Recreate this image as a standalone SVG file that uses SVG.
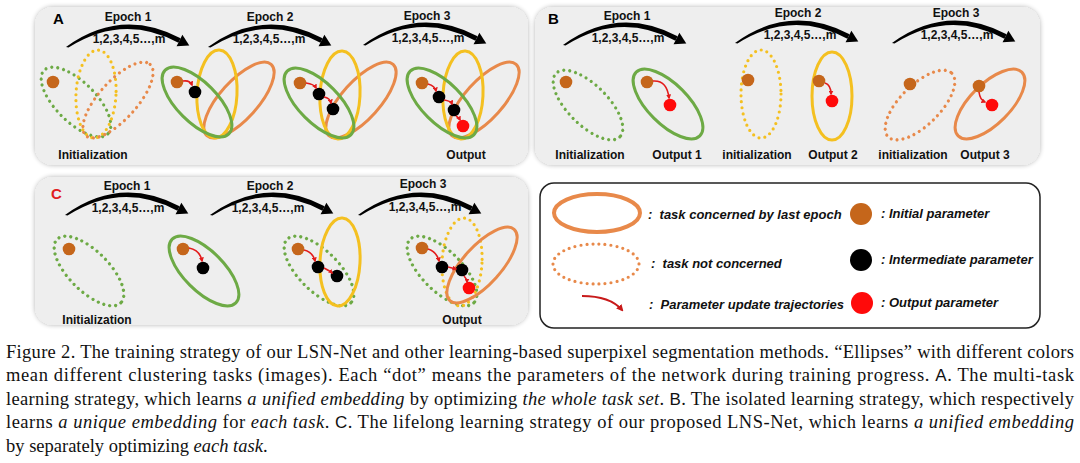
<svg xmlns="http://www.w3.org/2000/svg" width="1080" height="463" viewBox="0 0 1080 463">
<defs>
<filter id="sh" x="-5%" y="-5%" width="110%" height="110%">
<feGaussianBlur in="SourceAlpha" stdDeviation="2.5"/>
<feComponentTransfer><feFuncA type="linear" slope="0.3"/></feComponentTransfer>
<feMerge><feMergeNode/><feMergeNode in="SourceGraphic"/></feMerge>
</filter>
<marker id="ra" viewBox="0 0 10 10" refX="7" refY="5" markerWidth="5" markerHeight="5" markerUnits="userSpaceOnUse" orient="auto">
<path d="M0,0 L10,5 L0,10 Z" fill="#E31B1B"/>
</marker>
<marker id="rl" viewBox="0 0 10 10" refX="7" refY="5" markerWidth="7" markerHeight="7" markerUnits="userSpaceOnUse" orient="auto">
<path d="M0,0 L10,5 L0,10 Z" fill="#C81A1A"/>
</marker>
<g id="arc">
<path d="M0,0 Q55,-40 114.6,-8.7 L112.4,-4.3 Q57,-34 2.5,0.5 Z" fill="#000"/>
<path d="M116.4,-12.3 L123.3,-1.6 L110.6,-0.7 Z" fill="#000"/>
</g>
</defs>
<style>
.pn{fill:#eeeeee;filter:url(#sh)}
.g{stroke:#6DAA45}.y{stroke:#F4C020}.o{stroke:#E8894A}
.s{fill:none;stroke-width:3}
.d{fill:none;stroke-width:3.2;stroke-dasharray:0 6;stroke-linecap:round}
.bd{fill:#C5661B}.kd{fill:#000}.rd{fill:#FF0A0A}
.tr{fill:none;stroke:#E31B1B;stroke-width:1.6;marker-end:url(#ra)}
.ep{font-family:"Liberation Sans",Arial,sans-serif;font-weight:bold;font-size:12px;text-anchor:middle;fill:#111}
.pl{font-family:"Liberation Sans",Arial,sans-serif;font-weight:bold;font-size:15px}
.lg{font-family:"Liberation Sans",Arial,sans-serif;font-weight:bold;font-style:italic;font-size:13px;fill:#111}
.cap{font-family:"Liberation Serif","Times New Roman",serif;font-size:18.5px;fill:#111}
.it{font-style:italic}
.sf{font-family:"Liberation Sans",Arial,sans-serif;font-size:17px}
</style>

<rect class="pn" x="35" y="7" width="493" height="158" rx="18"/>
<rect class="pn" x="535" y="7" width="505" height="158" rx="18"/>
<rect class="pn" x="35" y="177" width="493" height="148" rx="18"/>

<g id="panelA">
<text class="pl" x="53" y="24">A</text>
<use href="#arc" transform="translate(66 47)"/>
<use href="#arc" transform="translate(208 47)"/>
<use href="#arc" transform="translate(363 45)"/>
<text class="ep" x="128" y="21">Epoch 1</text>
<text class="ep" x="129" y="43">1,2,3,4,5…,m</text>
<text class="ep" x="270" y="21">Epoch 2</text>
<text class="ep" x="269" y="43">1,2,3,4,5…,m</text>
<text class="ep" x="427" y="20">Epoch 3</text>
<text class="ep" x="428" y="42">1,2,3,4,5…,m</text>
</g>

<g id="A1">
<ellipse class="d g" rx="45" ry="20" transform="translate(76 102) rotate(45)"/>
<ellipse class="d y" rx="20" ry="44" transform="translate(96 94) rotate(3)"/>
<ellipse class="d o" rx="48" ry="19" transform="translate(118 100) rotate(-48)"/>
<circle class="bd" cx="53" cy="82" r="6.3"/>
<text class="ep" x="93" y="159">Initialization</text>
</g>
<g id="A2">
<ellipse class="s o" rx="48" ry="19" transform="translate(239 100) rotate(-48)"/>
<ellipse class="s y" rx="20" ry="44" transform="translate(217 94) rotate(3)"/>
<ellipse class="s g" rx="45" ry="20" transform="translate(197 102) rotate(45)"/>
<circle class="bd" cx="177" cy="82" r="6.3"/>
<circle class="kd" cx="195" cy="92" r="6.3"/>
</g>
<g id="A3">
<ellipse class="s o" rx="48" ry="19" transform="translate(361 100) rotate(-48)"/>
<ellipse class="s y" rx="20" ry="44" transform="translate(340 95) rotate(3)"/>
<ellipse class="s g" rx="45" ry="20" transform="translate(319 103) rotate(45)"/>
<circle class="bd" cx="300" cy="83" r="6.3"/>
<circle class="kd" cx="319" cy="94" r="6.3"/>
<circle class="kd" cx="333" cy="109" r="6.3"/>
</g>
<g id="A4">
<ellipse class="s o" rx="48" ry="19" transform="translate(484 100) rotate(-48)"/>
<ellipse class="s y" rx="20" ry="44" transform="translate(463 95) rotate(3)"/>
<ellipse class="s g" rx="45" ry="20" transform="translate(442 103) rotate(45)"/>
<circle class="bd" cx="422" cy="83" r="6.3"/>
<circle class="kd" cx="439" cy="97" r="6.3"/>
<circle class="kd" cx="454" cy="110" r="6.3"/>
<circle class="rd" cx="463" cy="126" r="6.3"/>
<text class="ep" x="466" y="159">Output</text>
</g>

<g id="panelB">
<text class="pl" x="548" y="24">B</text>
<use href="#arc" transform="translate(563 45)"/>
<use href="#arc" transform="translate(735 43)"/>
<use href="#arc" transform="translate(892 43)"/>
<text class="ep" x="627" y="20">Epoch 1</text>
<text class="ep" x="628" y="42">1,2,3,4,5…,m</text>
<text class="ep" x="798" y="17">Epoch 2</text>
<text class="ep" x="800" y="39">1,2,3,4,5…,m</text>
<text class="ep" x="956" y="17">Epoch 3</text>
<text class="ep" x="957" y="39">1,2,3,4,5…,m</text>
</g>
<g id="B1">
<ellipse class="d g" rx="45" ry="20" transform="translate(588 105) rotate(45)"/>
<circle class="bd" cx="566" cy="82" r="6.3"/>
<text class="ep" x="590" y="159">Initialization</text>
</g>
<g id="B2">
<ellipse class="s g" rx="45" ry="20" transform="translate(668 104) rotate(45)"/>
<circle class="bd" cx="647" cy="82" r="6.3"/>
<circle class="rd" cx="670" cy="105" r="6.3"/>
<text class="ep" x="677" y="159">Output 1</text>
</g>
<g id="B3">
<ellipse class="d y" rx="20" ry="44" transform="translate(761 94)"/>
<circle class="bd" cx="748" cy="80" r="6.3"/>
<text class="ep" x="757" y="159">initialization</text>
</g>
<g id="B4">
<ellipse class="s y" rx="20" ry="44" transform="translate(832 96)"/>
<circle class="bd" cx="819" cy="81" r="6.3"/>
<circle class="rd" cx="832" cy="101" r="6.3"/>
<text class="ep" x="833" y="159">Output 2</text>
</g>
<g id="B5">
<ellipse class="d o" rx="45" ry="20" transform="translate(920 105) rotate(-45)"/>
<circle class="bd" cx="910" cy="84" r="6.3"/>
<text class="ep" x="913" y="159">initialization</text>
</g>
<g id="B6">
<ellipse class="s o" rx="45" ry="20" transform="translate(990 104) rotate(-45)"/>
<circle class="bd" cx="979" cy="86" r="6.3"/>
<circle class="rd" cx="992" cy="105" r="6.3"/>
<text class="ep" x="985" y="159">Output 3</text>
</g>

<g id="panelC">
<text class="pl" x="51" y="199" fill="#E02020">C</text>
<use href="#arc" transform="translate(65 215)"/>
<use href="#arc" transform="translate(210 215)"/>
<use href="#arc" transform="translate(358 215)"/>
<text class="ep" x="127" y="190">Epoch 1</text>
<text class="ep" x="128" y="212">1,2,3,4,5…,m</text>
<text class="ep" x="270" y="190">Epoch 2</text>
<text class="ep" x="268" y="212">1,2,3,4,5…,m</text>
<text class="ep" x="423" y="188">Epoch 3</text>
<text class="ep" x="425" y="211">1,2,3,4,5…,m</text>
</g>
<g id="C1">
<ellipse class="d g" rx="45" ry="20" transform="translate(89 271) rotate(45)"/>
<circle class="bd" cx="69" cy="249" r="6.3"/>
<text class="ep" x="97" y="324">Initialization</text>
</g>
<g id="C2">
<ellipse class="s g" rx="45" ry="20" transform="translate(204 271) rotate(45)"/>
<circle class="bd" cx="183" cy="249" r="6.3"/>
<circle class="kd" cx="203" cy="268" r="6.3"/>
</g>
<g id="C3">
<ellipse class="d g" rx="45" ry="20" transform="translate(319 271) rotate(45)"/>
<ellipse class="s y" rx="20" ry="44" transform="translate(340 262) rotate(3)"/>
<circle class="bd" cx="298" cy="249" r="6.3"/>
<circle class="kd" cx="318" cy="267" r="6.3"/>
<circle class="kd" cx="337" cy="276" r="6.3"/>
</g>
<g id="C4">
<ellipse class="d g" rx="45" ry="20" transform="translate(442 271) rotate(45)"/>
<ellipse class="d y" rx="20" ry="44" transform="translate(462 262) rotate(3)"/>
<ellipse class="s o" rx="48" ry="19" transform="translate(482 265) rotate(-48)"/>
<circle class="bd" cx="422" cy="248" r="6.3"/>
<circle class="kd" cx="442" cy="267" r="6.3"/>
<circle class="kd" cx="462" cy="270" r="6.3"/>
<circle class="rd" cx="469" cy="288" r="6.3"/>
<text class="ep" x="462" y="324">Output</text>
</g>

<g id="connectors">
<path class="tr" d="M183,81 Q190,80 192,85"/>
<path class="tr" d="M306,83 Q314,84 316,88"/>
<path class="tr" d="M324,97 Q330,98 331,103"/>
<path class="tr" d="M428,84 Q435,86 436,91"/>
<path class="tr" d="M444,100 Q451,101 452,104"/>
<path class="tr" d="M456,116 Q459,118 460,120"/>
<path class="tr" d="M653,81 Q667,80 669,98"/>
<path class="tr" d="M825,83 Q831,85 831,94"/>
<path class="tr" d="M979,92 Q980,100 985,102"/>
<path class="tr" d="M189,248 Q200,250 202,261"/>
<path class="tr" d="M304,250 Q313,252 315,261"/>
<path class="tr" d="M324,268 Q330,271 332,273"/>
<path class="tr" d="M428,249 Q437,252 439,261"/>
<path class="tr" d="M448,267 L456,269"/>
<path class="tr" d="M464,276 Q467,279 467,282"/>
</g>

<g id="legend">
<rect x="540" y="183" width="500" height="145" rx="14" fill="#fff" stroke="#222" stroke-width="1.5"/>
<ellipse cx="597" cy="213" rx="43" ry="19" fill="none" stroke="#E8894A" stroke-width="4"/>
<ellipse class="d o" cx="596" cy="264" rx="43" ry="20"/>
<path d="M582,296 Q610,296 622,310" fill="none" stroke="#C81A1A" stroke-width="2" marker-end="url(#rl)"/>
<text class="lg" x="648" y="219" xml:space="preserve">:  task concerned by last epoch</text>
<text class="lg" x="651" y="268" xml:space="preserve">:  task not concerned</text>
<text class="lg" x="649" y="309" xml:space="preserve">:  Parameter update trajectories</text>
<circle class="bd" cx="861" cy="214" r="11"/>
<circle class="kd" cx="861" cy="260" r="11"/>
<circle class="rd" cx="862" cy="303" r="11"/>
<text class="lg" x="881" y="218">: Initial parameter</text>
<text class="lg" x="881" y="264">: Intermediate parameter</text>
<text class="lg" x="881" y="307">: Output parameter</text>
</g>

<g id="caption">
<text class="cap" x="6" y="357.5" textLength="1068" lengthAdjust="spacing">Figure 2. The training strategy of our LSN-Net and other learning-based superpixel segmentation methods. “Ellipses” with different colors</text>
<text class="cap" x="6" y="381" textLength="1068" lengthAdjust="spacing">mean different clustering tasks (images).  Each “dot” means the parameters of the network during training progress.   <tspan class="sf">A</tspan>. The multi-task</text>
<text class="cap" x="6" y="404.5" textLength="1068" lengthAdjust="spacing">learning strategy, which learns <tspan class="it">a unified embedding</tspan> by optimizing <tspan class="it">the whole task set</tspan>.  <tspan class="sf">B</tspan>. The isolated learning strategy, which respectively</text>
<text class="cap" x="6" y="428" textLength="1068" lengthAdjust="spacing">learns <tspan class="it">a unique embedding</tspan> for <tspan class="it">each task</tspan>.   <tspan class="sf">C</tspan>. The lifelong learning strategy of our proposed LNS-Net, which learns <tspan class="it">a unified embedding</tspan></text>
<text class="cap" x="6" y="451.5">by separately optimizing <tspan class="it">each task</tspan>.</text>
</g>
</svg>
